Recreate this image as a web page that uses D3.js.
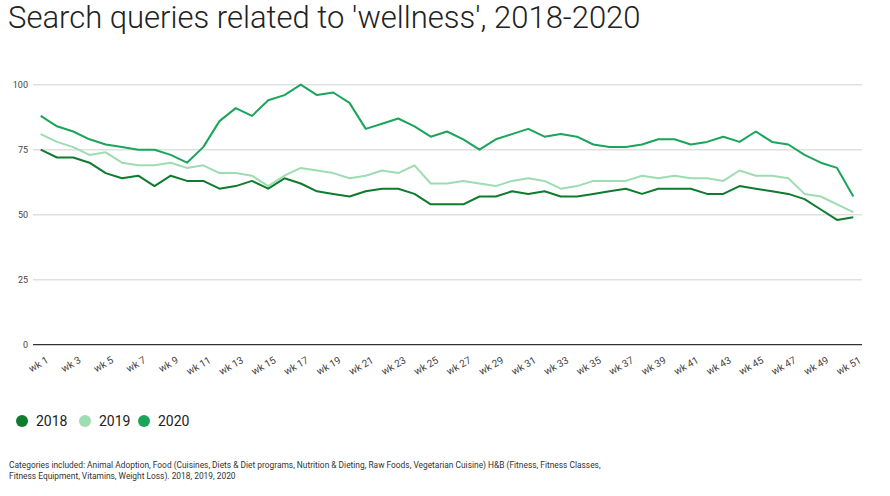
<!DOCTYPE html>
<html>
<head>
<meta charset="utf-8">
<script src="https://cdn.jsdelivr.net/npm/d3@7"></script>
<style>
  body { margin: 0; background: #fff; font-family: Roboto, "Noto Sans", sans-serif; }
  .grid line { stroke: #e0e0e0; stroke-width: 1.5; }
  .line { fill: none; stroke-width: 2; stroke-linejoin: round; }
</style>
</head>
<body>
<script>
var weeks = d3.range(1, 52).map(function(w){ return "wk " + w; });
var tickWeeks = weeks.filter(function(d, i){ return i % 2 == 0; });
var yTicks = [0, 25, 50, 75, 100];

var years = ["2018", "2019", "2020"];
var values2018 = [75,72,72,70,66,64,65,61,65,63, 63,60,61,63,60,64,62,59,58,57,
                  59,60,60,58,54,54,54,57,57,59, 58,59,57,57,58,59,60,58,60,60,
                  60,58,58,61,60,59,58,56,52,48,49];
var values2019 = [81,78,76,73,74,70,69,69,70,68, 69,66,66,65,61,65,68,67,66,64,
                  65,67,66,69,62,62,63,62,61,63, 64,63,60,61,63,63,63,65,64,65,
                  64,64,63,67,65,65,64,58,57,54,51];
var values2020 = [88,84,82,79,77,76,75,75,73,70, 76,86,91,88,94,96,100,96,97,93,
                  83,85,87,84,80,82,79,75,79,81, 83,80,81,80,77,76,76,77,79,79,
                  77,78,80,78,82,78,77,73,70,68,57];

var color_scheme = {"2018": "#0f7b2e", "2019": "#9edcb1", "2020": "#1aa55a"};
var series = [
  {year: "2018", values: values2018},
  {year: "2019", values: values2019},
  {year: "2020", values: values2020}
];

var width = 890, height = 496;
var svg = d3.select("body").append("svg")
    .attr("width", width)
    .attr("height", height);

svg.append("text")
    .attr("x", 8)
    .attr("y", 28)
    .attr("font-size", "31px")
    .attr("font-weight", 300)
    .attr("fill", "#222")
    .text("Search queries related to 'wellness', 2018-2020");

var xScale = d3.scalePoint().domain(weeks).range([40.7, 853.3]);
var yScale = d3.scaleLinear().domain([0, 100]).range([344.7, 84.7]);

// gridlines
svg.append("g")
    .attr("class", "grid")
    .selectAll("line")
    .data(yTicks.filter(function(d){ return d > 0; }))
    .enter().append("line")
      .attr("x1", 33).attr("x2", 862)
      .attr("y1", function(d){ return yScale(d); })
      .attr("y2", function(d){ return yScale(d); });

svg.append("line")
    .attr("x1", 33).attr("x2", 862)
    .attr("y1", yScale(0)).attr("y2", yScale(0))
    .attr("stroke", "#333").attr("stroke-width", 1.2);

// y labels
svg.append("g")
    .selectAll("text")
    .data(yTicks)
    .enter().append("text")
      .attr("x", 28)
      .attr("y", function(d){ return yScale(d); })
      .attr("dy", "0.35em")
      .attr("text-anchor", "end")
      .attr("font-size", "9px")
      .attr("fill", "#444")
      .text(function(d){ return d; });

// x labels
svg.append("g")
    .selectAll("text")
    .data(tickWeeks)
    .enter().append("text")
      .attr("transform", function(d){
          return "translate(" + (xScale(d) + 5) + "," + 356 + ") rotate(-30)";
      })
      .attr("text-anchor", "end")
      .attr("dy", "0.7em")
      .attr("font-size", "10px")
      .attr("fill", "#444")
      .text(function(d){ return d; });

var line = d3.line()
    .x(function(d, i){ return xScale(weeks[i]); })
    .y(function(d){ return yScale(d); });

series.forEach(function(s){
    svg.append("path")
        .datum(s.values)
        .attr("class", "line")
        .attr("stroke", color_scheme[s.year])
        .attr("d", line);
});

// legend
var legendX = [22, 85, 144];
var legend = svg.selectAll("g.legend")
    .data(years)
    .enter().append("g")
      .attr("class", "legend")
      .attr("transform", function(d, i){ return "translate(" + legendX[i] + ",421)"; });

legend.append("circle")
    .attr("r", 6)
    .attr("fill", function(d){ return color_scheme[d]; });

legend.append("text")
    .attr("x", 14)
    .attr("dy", "0.36em")
    .attr("font-size", "14px")
    .attr("fill", "#222")
    .text(function(d){ return d; });

// footnote
var notes = [
  "Categories included: Animal Adoption, Food (Cuisines, Diets & Diet programs, Nutrition & Dieting, Raw Foods, Vegetarian Cuisine) H&B (Fitness, Fitness Classes,",
  "Fitness Equipment, Vitamins, Weight Loss). 2018, 2019, 2020"
];
svg.append("g")
    .selectAll("text")
    .data(notes)
    .enter().append("text")
      .attr("x", 9)
      .attr("y", function(d, i){ return 468 + i * 11; })
      .attr("font-size", "8.4px")
      .attr("fill", "#333")
      .text(function(d){ return d; });
</script>
</body>
</html>
